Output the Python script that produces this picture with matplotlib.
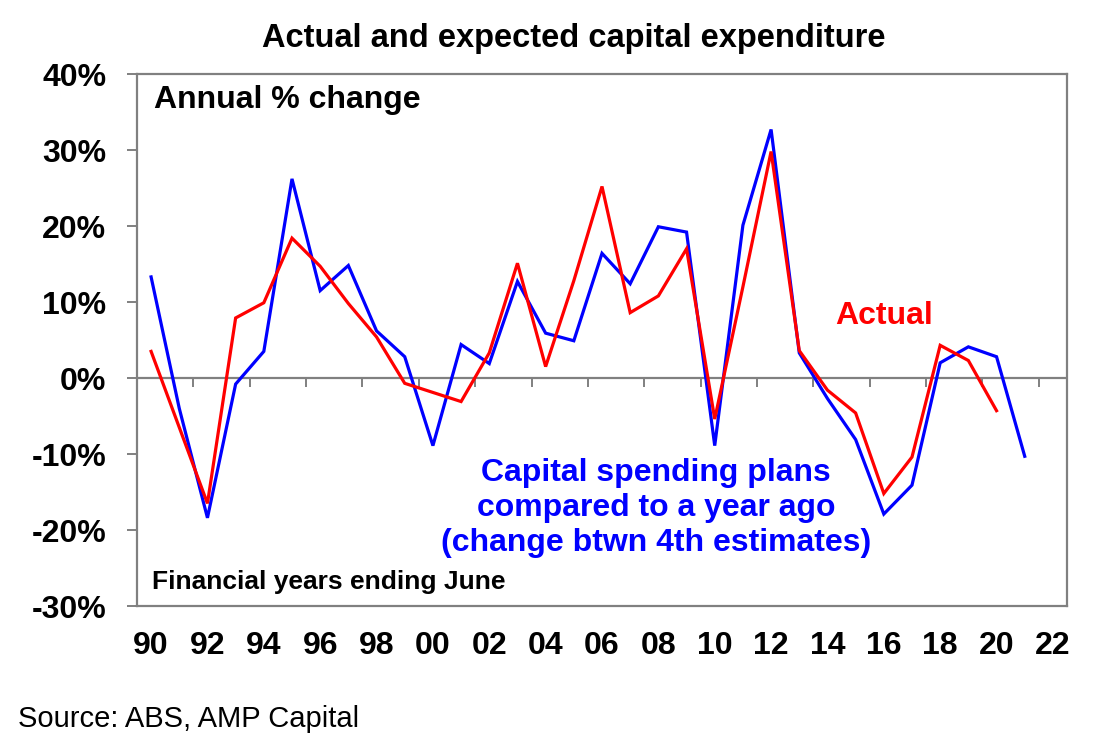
import matplotlib
matplotlib.use('Agg')
import matplotlib.pyplot as plt

# ---- data ----
plan_years = list(range(1990, 2022))
plans = [13.3, -4.0, -18.4, -0.8, 3.5, 26.2, 11.5, 14.8, 6.2, 2.8,
         -8.9, 4.4, 1.9, 12.7, 5.9, 4.9, 16.4, 12.4, 19.9, 19.2,
         -8.9, 20.1, 32.7, 3.3, -2.7, -8.1, -17.9, -14.1, 2.0, 4.1,
         2.8, -10.3]
actual_years = list(range(1990, 2021))
actual = [3.5, -6.5, -16.5, 7.9, 9.9, 18.4, 14.7, 9.8, 5.4, -0.7,
          -1.9, -3.1, 3.3, 15.1, 1.5, 12.8, 25.2, 8.6, 10.8, 17.0,
          -5.4, 12.0, 29.8, 3.6, -1.6, -4.6, -15.2, -10.4, 4.3, 2.3,
          -4.3]
xtick_years = list(range(1990, 2023, 2))
xtick_labels = [f"{y % 100:02d}" for y in xtick_years]
ytick_values = list(range(-30, 41, 10))
ytick_labels = [f"{v}%" for v in ytick_values]
zero_tick_pos = [y + 0.5 for y in range(1991, 2022, 2)]

FONT = 'Liberation Sans'
W, H = 1099, 756
GRAY = '#808080'

fig = plt.figure(figsize=(W / 100, H / 100), dpi=100)
ax = fig.add_axes([137 / W, 1 - 606 / H, (1067 - 137) / W, (606 - 74) / H])

ax.plot(plan_years, plans, color='#0000FF', lw=2.3, solid_joinstyle='miter', zorder=3)
ax.plot(actual_years, actual, color='#FF0000', lw=2.3, solid_joinstyle='miter', zorder=4)

ax.set_xlim(1989.5, 2022.5)
ax.set_ylim(-30, 40)

ax.axhline(0, color=GRAY, lw=1.6, zorder=2)
ax.vlines(zero_tick_pos, -1.2, 0, color=GRAY, lw=1.4, zorder=2)

for s in ax.spines.values():
    s.set_color(GRAY)
    s.set_linewidth(1.6)

ax.set_yticks(ytick_values)
ax.set_yticklabels(ytick_labels, fontfamily=FONT, fontweight='bold', fontsize=23)
ax.tick_params(axis='y', direction='out', length=7, width=1.4, color=GRAY, pad=15)
ax.set_xticks(xtick_years)
ax.set_xticklabels(xtick_labels, fontfamily=FONT, fontweight='bold', fontsize=23)
ax.tick_params(axis='x', length=0, pad=18)

def ftext(x, y, s, **kw):
    fig.text(x / W, 1 - y / H, s, fontfamily=FONT, **kw)

ftext(574, 38, 'Actual and expected capital expenditure', fontsize=23.5,
      fontweight='bold', ha='center', va='center')
ftext(154, 100, 'Annual % change', fontsize=23, fontweight='bold', ha='left', va='center')
ftext(152, 582, 'Financial years ending June', fontsize=19, fontweight='bold',
      ha='left', va='center')
ftext(656, 508, 'Capital spending plans\ncompared to a year ago\n(change btwn 4th estimates)',
      fontsize=23, fontweight='bold', color='#0000FF', ha='center', va='center',
      multialignment='center')
ftext(884, 316, 'Actual', fontsize=23, fontweight='bold', color='#FF0000',
      ha='center', va='center')
ftext(18, 719, 'Source: ABS, AMP Capital', fontsize=21, ha='left', va='center')

fig.savefig('out.png', dpi=100)
